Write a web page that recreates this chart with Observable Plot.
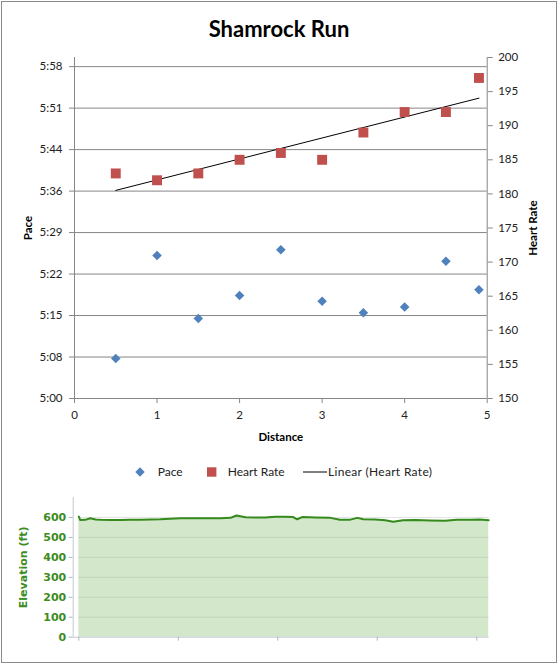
<!DOCTYPE html>
<html>
<head>
<meta charset="utf-8">
<script src="https://cdn.jsdelivr.net/npm/d3@7"></script>
<script src="https://cdn.jsdelivr.net/npm/@observablehq/plot@0.6"></script>
<style>
  html, body { margin: 0; padding: 0; background: #fff; }
  #page { position: relative; width: 558px; height: 665px; overflow: hidden; }
  #frame { position: absolute; left: 1px; top: 1px; width: 554px; height: 660px; border: 1px solid #8a8a8a; }
  #title { position: absolute; left: 0; top: 14px; width: 558px; height: 30px; line-height: 30px;
           text-align: center; font-family: Lato, sans-serif; font-weight: bold; font-size: 22px; color: #000; }
  .layer { position: absolute; left: 0; }
</style>
</head>
<body>
<div id="page">
  <div id="frame"></div>
  <div id="title">Shamrock Run</div>
  <div id="top" class="layer" style="top:0;width:558px;height:450px"></div>
  <div id="legend" class="layer" style="top:460px;width:558px;height:24px"></div>
  <div id="elev" class="layer" style="top:480px;width:558px;height:170px"></div>
</div>
<script>
// ---- data ----
const distance = [0.5, 1, 1.5, 2, 2.5, 3, 3.5, 4, 4.5, 4.9];
const pace = ["5:07", "5:25", "5:14", "5:18", "5:26", "5:17", "5:15", "5:16", "5:24", "5:19"];
const heartRate = [183, 182, 183, 185, 186, 185, 189, 192, 192, 197];

const distanceTicks = [0, 1, 2, 3, 4, 5];
const paceTickValues = [300, 307.25, 314.5, 321.75, 329, 336.25, 343.5, 350.75, 358];
const paceTickLabels = ["5:00", "5:08", "5:15", "5:22", "5:29", "5:36", "5:44", "5:51", "5:58"];
const hrTicks = [150, 155, 160, 165, 170, 175, 180, 185, 190, 195, 200];

const elevDistance = [0, 0.03, 0.13, 0.23, 0.34, 0.44, 0.64, 0.84, 1.04, 1.24, 1.44, 1.64, 1.84, 2.04,
  2.24, 2.44, 2.64, 2.85, 3.05, 3.17, 3.35, 3.55, 3.75, 3.95, 4.15, 4.31, 4.39, 4.49, 4.76, 5.06,
  5.25, 5.46, 5.60, 5.72, 5.96, 6.16, 6.32, 6.52, 6.76, 7.06, 7.36, 7.60, 7.86, 8.06, 8.24];
const elevation = [604, 587, 588, 596, 590, 588, 587, 587, 589, 589, 590, 591, 594, 596,
  596, 596, 596, 596, 598, 610, 601, 600, 600, 604, 603, 602, 591, 602, 600, 598,
  588, 589, 598, 591, 590, 586, 578, 586, 587, 585, 583, 588, 588, 590, 586];
const elevTicks = [0, 100, 200, 300, 400, 500, 600];
const elevXTicks = [0, 2, 4, 6, 8];

// ---- build rows ----
const toSec = s => { const [m, ss] = s.split(":"); return +m * 60 + +ss; };
const rows = distance.map((d, i) => ({ distance: d, pace: toSec(pace[i]), hr: heartRate[i] }));
const elevRows = elevDistance.map((d, i) => ({ d, e: elevation[i] }));

const gridColor = "#868686";
const baseStyle = { fontFamily: "Lato, sans-serif", fontSize: "11.5px", color: "#222", background: "transparent", overflow: "visible" };
const dims = { width: 558, height: 450, marginLeft: 74, marginRight: 71.3, marginTop: 57, marginBottom: 52 };

// Pace layer (left axis)
const pacePlot = Plot.plot({
  ...dims,
  style: baseStyle,
  x: { domain: [0, 5] },
  y: { domain: [300, 359.6] },
  marks: [
    Plot.gridY(paceTickValues, { stroke: gridColor, strokeOpacity: 1 }),
    Plot.ruleX([0], { stroke: gridColor }),
    Plot.axisY(paceTickValues, {
      tickFormat: d => paceTickLabels[paceTickValues.indexOf(d)],
      tickSize: 5, tickPadding: 7, stroke: gridColor, label: null
    }),
    Plot.axisX(distanceTicks, { tickSize: 5, tickPadding: 7, stroke: gridColor, label: null }),
    Plot.dot(rows, { x: "distance", y: "pace", symbol: "diamond2", r: 4.3, fill: "#4F81BD", stroke: "none" }),
    Plot.text(["Pace"], { text: d => d, frameAnchor: "left", dx: -46, rotate: -90, fontWeight: "bold",
      textAnchor: "middle", lineAnchor: "middle", fill: "#000" }),
    Plot.text(["Distance"], { text: d => d, frameAnchor: "bottom", dy: 38.7, fontWeight: "bold",
      textAnchor: "middle", lineAnchor: "middle", fill: "#000" })
  ]
});

// Heart rate layer (right axis)
const hrPlot = Plot.plot({
  ...dims,
  style: baseStyle,
  x: { domain: [0, 5], axis: null },
  y: { domain: [150, 200] },
  marks: [
    Plot.ruleX([5], { stroke: gridColor }),
    Plot.axisY(hrTicks, { anchor: "right", tickSize: 5, tickPadding: 6, stroke: gridColor, label: null }),
    Plot.linearRegressionY(rows, { x: "distance", y: "hr", stroke: "#000", strokeWidth: 1, ci: 0 }),
    Plot.dot(rows, { x: "distance", y: "hr", symbol: "square", r: 5.6, fill: "#C0504D", stroke: "none" }),
    Plot.text(["Heart Rate"], { text: d => d, frameAnchor: "right", dx: 46, rotate: -90, fontWeight: "bold",
      textAnchor: "middle", lineAnchor: "middle", fill: "#000" })
  ]
});

for (const p of [pacePlot, hrPlot]) {
  p.style.position = "absolute"; p.style.left = "0px"; p.style.top = "0px";
  document.getElementById("top").appendChild(p);
}

// Legend
const lg = d3.select("#legend").append("svg").attr("width", 558).attr("height", 24)
  .style("font-family", "Lato, sans-serif").style("font-size", "12px");
const cy = 12;
lg.append("path").attr("d", d3.symbol(d3.symbolDiamond2, 4.3 * 4.3 * Math.PI)()).attr("transform", `translate(140,${cy})`).attr("fill", "#4F81BD");
lg.append("text").attr("x", 157.7).attr("y", cy).attr("dy", "0.35em").attr("fill", "#222").text("Pace");
lg.append("rect").attr("x", 207).attr("y", cy - 4.7).attr("width", 9.4).attr("height", 9.4).attr("fill", "#C0504D");
lg.append("text").attr("x", 227.7).attr("y", cy).attr("dy", "0.35em").attr("fill", "#222").text("Heart Rate");
lg.append("line").attr("x1", 303).attr("x2", 327).attr("y1", cy).attr("y2", cy).attr("stroke", "#000").attr("stroke-width", 1);
lg.append("text").attr("x", 328).attr("y", cy).attr("dy", "0.35em").attr("fill", "#222").attr("textLength", 104).text("Linear (Heart Rate)");

// Elevation chart
const green = "#3C8C1E";
const axisGray = "#C2C9D2";
const elevPlot = Plot.plot({
  width: 558, height: 170, marginLeft: 78.3, marginRight: 69.3, marginTop: 17, marginBottom: 13.3,
  style: { fontFamily: "'DejaVu Sans', sans-serif", fontSize: "11px", background: "transparent", overflow: "visible" },
  x: { domain: [0, 8.25] },
  y: { domain: [0, 700] },
  marks: [
    Plot.areaY(elevRows, { x: "d", y: "e", fill: "#D3E7CB" }),
    Plot.gridY(elevTicks.slice(1), { stroke: "#9aa89a", strokeOpacity: 0.3 }),
    Plot.ruleX([0], { dx: -5.6, stroke: axisGray }),
    Plot.ruleY([0], { stroke: axisGray, insetLeft: -5.6 }),
    Plot.axisY(elevTicks, { dx: -5.6, tickSize: 4, tickPadding: 3, stroke: "#B0B6BE", fill: green, fontWeight: "bold", label: null }),
    Plot.axisX(elevXTicks, { tickSize: 4, tickFormat: () => "", stroke: "#B0B6BE", label: null }),
    Plot.lineY(elevRows, { x: "d", y: "e", stroke: "#358A1C", strokeWidth: 2 }),
    Plot.text(["Elevation (ft)"], { text: d => d, frameAnchor: "left", dx: -55.3, rotate: -90, fontWeight: "bold",
      textAnchor: "middle", lineAnchor: "middle", fill: green })
  ]
});
document.getElementById("elev").appendChild(elevPlot);
</script>
</body>
</html>
